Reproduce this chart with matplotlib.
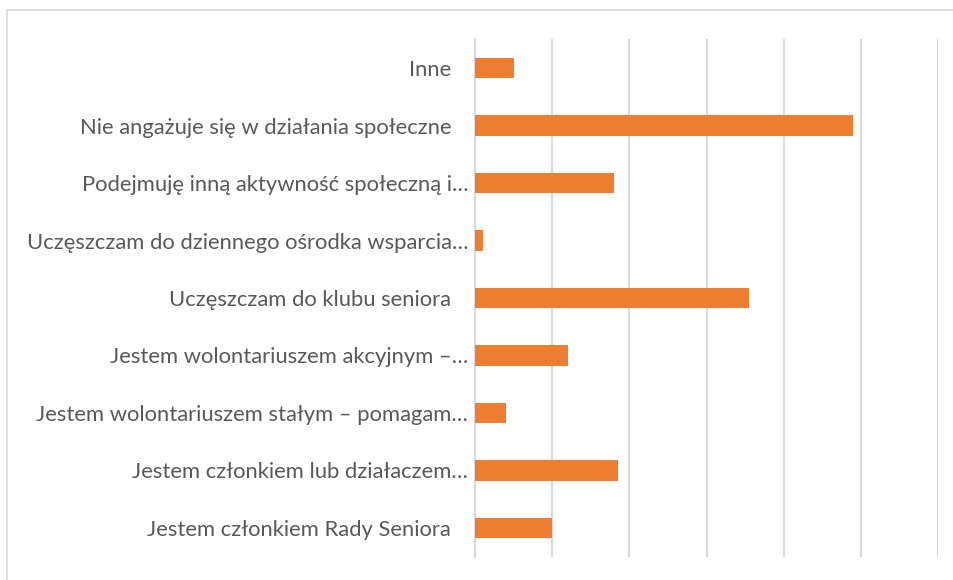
import matplotlib
matplotlib.use("Agg")
import matplotlib.pyplot as plt
from matplotlib.patches import Rectangle

categories = [
    "Inne",
    "Nie angażuje się w działania społeczne",
    "Podejmuję inną aktywność społeczną i…",
    "Uczęszczam do dziennego ośrodka wsparcia…",
    "Uczęszczam do klubu seniora",
    "Jestem wolontariuszem akcyjnym –…",
    "Jestem wolontariuszem stałym – pomagam…",
    "Jestem członkiem lub działaczem…",
    "Jestem członkiem Rady Seniora",
]
values = [10, 98, 36, 2, 71, 24, 8, 37, 20]
x_ticks = [0, 20, 40, 60, 80, 100, 120]

fig = plt.figure(figsize=(9.54, 5.80), dpi=100)
W, H = 954, 580
ax = fig.add_axes([475 / W, 1 - 556.7 / H, (938.3 - 475) / W, (556.7 - 39.3) / H])

n = len(categories)
ypos = list(range(n))[::-1]
ax.barh(ypos, values, height=0.35, color="#ED7D31", zorder=3)
ax.set_ylim(-0.5, n - 0.5)
ax.set_xlim(x_ticks[0], x_ticks[-1])
ax.set_xticks(x_ticks)
ax.set_xticklabels([])
ax.tick_params(axis="x", length=0)
ax.grid(axis="x", color="#D9D9D9", linewidth=1.5, zorder=0)
ax.set_yticks(ypos)
labels = [c if c.endswith("…") else c + "   " for c in categories]
ax.set_yticklabels(labels, fontsize=15.8, color="#595959", family=["Lato", "DejaVu Sans"])
ax.tick_params(axis="y", length=0, pad=5)
for s in ["top", "right", "bottom"]:
    ax.spines[s].set_visible(False)
ax.spines["left"].set_color("#D9D9D9")
ax.spines["left"].set_linewidth(1.5)

fig.patches.append(Rectangle((7 / W, -0.05), 1.1, 1 - 10 / H + 0.05, transform=fig.transFigure,
                             fill=False, edgecolor="#D9D9D9", linewidth=1.2))

fig.savefig("out.png", dpi=100)
